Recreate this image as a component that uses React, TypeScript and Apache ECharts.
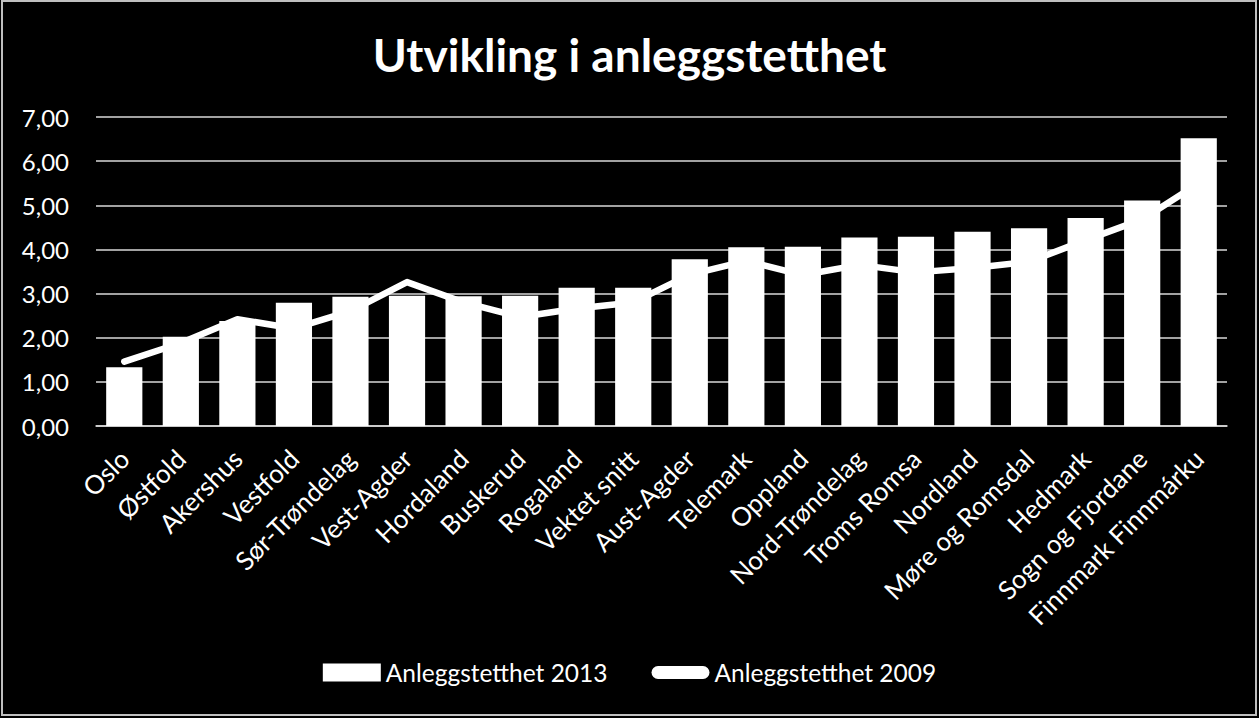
import React, { useEffect, useRef } from "react";
import * as echarts from "echarts";

const categories = [
  "Oslo", "Østfold", "Akershus", "Vestfold", "Sør-Trøndelag", "Vest-Agder",
  "Hordaland", "Buskerud", "Rogaland", "Vektet snitt", "Aust-Agder", "Telemark",
  "Oppland", "Nord-Trøndelag", "Troms Romsa", "Nordland", "Møre og Romsdal",
  "Hedmark", "Sogn og Fjordane", "Finnmark Finnmárku",
];
const values2013 = [1.33, 2.02, 2.38, 2.79, 2.93, 2.95, 2.94, 2.95, 3.13, 3.13, 3.78, 4.05, 4.06, 4.27, 4.29, 4.4, 4.48, 4.71, 5.11, 6.52];
const values2009 = [1.46, 1.88, 2.42, 2.21, 2.6, 3.26, 2.8, 2.47, 2.66, 2.8, 3.43, 3.74, 3.42, 3.65, 3.48, 3.58, 3.72, 4.21, 4.68, 5.5];
const seriesNames = ["Anleggstetthet 2013", "Anleggstetthet 2009"];
const titleText = "Utvikling i anleggstetthet";

const FONT = "Lato, 'Open Sans', sans-serif";

export default function App() {
  const ref = useRef<HTMLDivElement>(null);
  useEffect(() => {
    if (!ref.current) return;
    const chart = echarts.init(ref.current, null, { renderer: "svg" });
    chart.setOption({
      animation: false,
      backgroundColor: "#000000",
      textStyle: { fontFamily: FONT },
      title: {
        text: titleText,
        left: "center",
        top: 26,
        textStyle: { color: "#ffffff", fontSize: 46, fontWeight: "bold", fontFamily: FONT },
      },
      graphic: [
        {
          type: "rect",
          shape: { x: 2, y: 1, width: 1254, height: 714 },
          style: { fill: "none", stroke: "#bfbfbf", lineWidth: 2 },
          silent: true,
        },
      ],
      legend: {
        bottom: 28,
        left: "center",
        itemGap: 44,
        itemWidth: 58,
        itemHeight: 18,
        textStyle: { color: "#ffffff", fontSize: 24.5, fontFamily: FONT },
        data: [
          { name: seriesNames[0], icon: "rect" },
          {
            name: seriesNames[1],
            icon: "path://M6.5,0 L51.5,0 A6.5,6.5 0 0 1 51.5,13 L6.5,13 A6.5,6.5 0 0 1 6.5,0 Z",
          },
        ],
      },
      grid: { left: 96, right: 32, top: 117, bottom: 292, containLabel: false },
      xAxis: {
        type: "category",
        data: categories,
        axisTick: { show: false },
        axisLine: { lineStyle: { color: "#d9d9d9", width: 1.5 } },
        axisLabel: {
          interval: 0,
          rotate: 45,
          margin: 28,
          color: "#ffffff",
          fontSize: 26,
          fontFamily: FONT,
        },
      },
      yAxis: {
        type: "value",
        min: 0,
        max: 7,
        interval: 1,
        axisLine: { show: false },
        axisTick: { show: false },
        splitLine: { lineStyle: { color: "#d9d9d9", width: 1.5 } },
        axisLabel: {
          color: "#ffffff",
          fontSize: 24,
          margin: 27,
          fontFamily: FONT,
          formatter: (v: number) => v.toFixed(2).replace(".", ","),
        },
      },
      series: [
        {
          name: seriesNames[0],
          type: "bar",
          data: values2013,
          barWidth: "64%",
          itemStyle: { color: "#ffffff" },
          z: 2,
        },
        {
          name: seriesNames[1],
          type: "line",
          data: values2009,
          symbol: "none",
          showSymbol: false,
          itemStyle: { color: "#ffffff" },
          lineStyle: { color: "#ffffff", width: 6.5, cap: "round", join: "round" },
          z: 3,
        },
      ],
    });
    return () => chart.dispose();
  }, []);
  return (
    <div
      ref={ref}
      style={{ position: "fixed", left: 0, top: 0, width: 1259, height: 718, background: "#000" }}
    />
  );
}
